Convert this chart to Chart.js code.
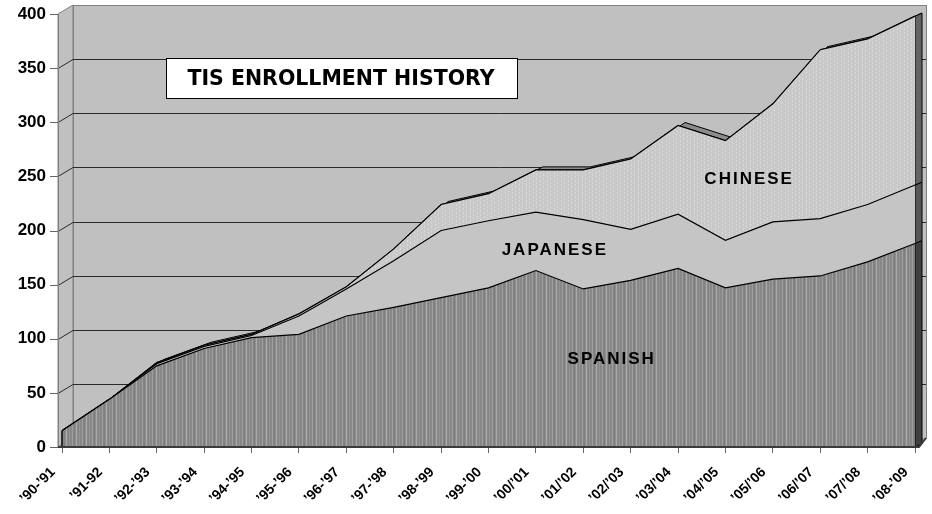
<!DOCTYPE html>
<html>
<head>
<meta charset="utf-8">
<script src="https://cdn.jsdelivr.net/npm/chart.js@4.4.1/dist/chart.umd.min.js"></script>
<style>
  html, body { margin: 0; padding: 0; background: #fff; }
</style>
</head>
<body>
<canvas id="enroll" width="932" height="514"></canvas>
<script>
// school years on the x axis
const years = ['’90-’91', '’91-92', '’92-’93', '’93-’94', '’94-’95', '’95-’96', '’96-’97', '’97-’98', '’98-’99', '’99-’00',
  '’00/’01', '’01/’02', '’02/’03', '’03/’04', '’04/’05', '’05/’06', '’06/’07', '’07/’08', '’08-’09'];

// students per language (stacked)
const spanish  = [15, 44, 75, 91, 101, 104, 121, 129, 138, 147, 163, 146, 154, 165, 147, 155, 158, 171, 188];
const japanese = [0, 0, 2, 2, 2, 17, 25, 43, 62, 62, 54, 64, 47, 50, 44, 53, 53, 53, 54];
const chinese  = [0, 0, 1, 1, 1, 2, 2, 11, 24, 25, 39, 46, 65, 82, 92, 109, 156, 153, 156];

const yTicks = [0, 50, 100, 150, 200, 250, 300, 350, 400];

const FONT = 'Liberation Sans';

function stripes(cols, h, dots) {
  const c = document.createElement('canvas');
  c.width = cols.length; c.height = h;
  const g = c.getContext('2d');
  cols.forEach((col, i) => { g.fillStyle = col; g.fillRect(i, 0, 1, h); });
  (dots || []).forEach(d => { g.fillStyle = d[2]; g.fillRect(d[0], d[1], 1, 1); });
  return g.createPattern(c, 'repeat');
}

const spanishFill = stripes(['#868686', '#8a8a8a', '#9e9e9e', '#838383', '#7f7f7f', '#8d8d8d', '#ababab', '#8a8a8a', '#848484', '#959595'], 1);
const chineseFill = stripes(['#c9c9c9', '#cacaca', '#c8c8c8', '#c9c9c9', '#cbcbcb', '#c8c8c8', '#c9c9c9'], 4,
  [[1, 0, '#dcdcdc'], [1, 1, '#d6d6d6'], [4, 2, '#dadada'], [4, 3, '#d4d4d4']]);

// 3d look: walls sit behind the front plane, series have a small depth
const wall = { dx: 15, dy: 9 };
const slab = { dx: 7, dy: 3 };

const threeD = {
  id: 'threeD',
  beforeDatasetsDraw(chart) {
    const { ctx, chartArea: a, scales: { y } } = chart;
    const fx = a.left - 4;
    const top = y.getPixelForValue(400), base = y.getPixelForValue(0);
    const bx = fx + wall.dx, br = a.right + 11;
    ctx.save();
    ctx.lineWidth = 1;
    // side wall
    ctx.fillStyle = '#c0c0c0';
    ctx.strokeStyle = '#808080';
    ctx.beginPath();
    ctx.moveTo(fx, top); ctx.lineTo(bx, top - wall.dy); ctx.lineTo(bx, base - wall.dy); ctx.lineTo(fx, base); ctx.closePath();
    ctx.fill(); ctx.stroke();
    // back wall
    ctx.fillRect(bx, top - wall.dy, br - bx, base - top);
    ctx.strokeRect(bx + 0.5, top - wall.dy + 0.5, br - bx, base - top);
    // floor
    ctx.fillStyle = '#9a9a9a';
    ctx.beginPath();
    ctx.moveTo(fx, base); ctx.lineTo(a.right + 4, base); ctx.lineTo(br, base - wall.dy); ctx.lineTo(bx, base - wall.dy); ctx.closePath();
    ctx.fill();
    // gridlines on the walls + tick marks
    yTicks.forEach(v => {
      const yy = Math.round(y.getPixelForValue(v)) + 0.5;
      if (v > 0 && v < 400) {
        ctx.strokeStyle = '#2a2a2a';
        ctx.beginPath();
        ctx.moveTo(fx, yy); ctx.lineTo(bx, yy - wall.dy); ctx.lineTo(br, yy - wall.dy);
        ctx.stroke();
      }
      ctx.strokeStyle = '#666';
      ctx.beginPath();
      ctx.moveTo(fx - 8, yy); ctx.lineTo(fx, yy);
      ctx.stroke();
    });
    ctx.strokeStyle = '#808080';
    ctx.beginPath();
    ctx.moveTo(fx + 0.5, top); ctx.lineTo(fx + 0.5, base);
    ctx.stroke();

    // top face of the upper series
    const pts = chart.getDatasetMeta(2).data;
    ctx.fillStyle = '#8c8c8c';
    ctx.strokeStyle = '#000';
    ctx.beginPath();
    pts.forEach((p, i) => i ? ctx.lineTo(p.x, p.y) : ctx.moveTo(p.x, p.y));
    for (let i = pts.length - 1; i >= 0; i--) ctx.lineTo(pts[i].x + slab.dx, pts[i].y - slab.dy);
    ctx.closePath();
    ctx.fill(); ctx.stroke();

    // right side faces
    const shades = ['#404040', '#575757', '#646464'];
    const last = pts.length - 1;
    for (let k = 0; k < 3; k++) {
      const t = chart.getDatasetMeta(k).data[last];
      const b = k ? chart.getDatasetMeta(k - 1).data[last] : { x: t.x, y: base };
      ctx.fillStyle = shades[k];
      ctx.beginPath();
      ctx.moveTo(t.x, t.y); ctx.lineTo(t.x + slab.dx, t.y - slab.dy);
      ctx.lineTo(b.x + slab.dx, b.y - slab.dy); ctx.lineTo(b.x, b.y); ctx.closePath();
      ctx.fill(); ctx.stroke();
    }
    ctx.restore();
  },
  afterDatasetsDraw(chart) {
    const { ctx, chartArea: a, scales: { x, y } } = chart;
    const base = y.getPixelForValue(0);
    ctx.save();
    // left edge of the stacked area
    const p0 = chart.getDatasetMeta(2).data[0];
    ctx.strokeStyle = '#000';
    ctx.lineWidth = 1.5;
    ctx.beginPath();
    ctx.moveTo(p0.x, base); ctx.lineTo(p0.x, p0.y);
    ctx.stroke();
    // front floor edge
    ctx.strokeStyle = '#3a3a3a';
    ctx.lineWidth = 2;
    ctx.beginPath();
    ctx.moveTo(a.left - 4, base); ctx.lineTo(a.right + 4, base); ctx.lineTo(a.right + 11, base - wall.dy);
    ctx.stroke();

    // series names inside the areas
    ctx.fillStyle = '#000';
    ctx.font = 'bold 17px "' + FONT + '"';
    ctx.letterSpacing = '2px';
    ctx.textAlign = 'center';
    ctx.textBaseline = 'middle';
    [['SPANISH', 11.6, 81], ['JAPANESE', 10.4, 182], ['CHINESE', 14.5, 247]].forEach(([t, i, v]) => {
      ctx.fillText(t, x.getPixelForValue(i), y.getPixelForValue(v));
    });

    // title box
    const l = Math.round(x.getPixelForValue(2.19)) + 0.5, r = Math.round(x.getPixelForValue(9.6)) + 0.5;
    const tt = Math.round(y.getPixelForValue(359)) + 0.5, bb = Math.round(y.getPixelForValue(322)) + 0.5;
    ctx.fillStyle = '#fff';
    ctx.fillRect(l, tt, r - l, bb - tt);
    ctx.strokeStyle = '#000';
    ctx.lineWidth = 1;
    ctx.strokeRect(l, tt, r - l, bb - tt);
    ctx.fillStyle = '#000';
    ctx.letterSpacing = '0px';
    ctx.font = 'bold 20.5px "DejaVu Sans"';
    ctx.fillText('TIS ENROLLMENT HISTORY', (l + r) / 2 - 1, (tt + bb) / 2 + 1);
    ctx.restore();
  }
};

new Chart(document.getElementById('enroll'), {
  type: 'line',
  data: {
    labels: years,
    datasets: [
      { label: 'SPANISH', data: spanish, fill: 'origin', backgroundColor: spanishFill, borderColor: '#000', borderWidth: 1.2 },
      { label: 'JAPANESE', data: japanese, fill: '-1', backgroundColor: '#c5c5c5', borderColor: '#000', borderWidth: 1.2 },
      { label: 'CHINESE', data: chinese, fill: '-1', backgroundColor: chineseFill, borderColor: '#000', borderWidth: 1.2 }
    ]
  },
  options: {
    responsive: false,
    animation: false,
    layout: { padding: { top: 14, right: 17, left: 0, bottom: 0 } },
    elements: { point: { radius: 0, hoverRadius: 0 }, line: { tension: 0 } },
    plugins: { legend: { display: false }, tooltip: { enabled: false } },
    scales: {
      x: {
        offset: false,
        grid: { drawOnChartArea: false, drawTicks: true, tickLength: 6, color: '#666' },
        border: { display: false },
        ticks: { autoSkip: false, minRotation: 45, maxRotation: 45, padding: 11, labelOffset: -9, color: '#000', font: { family: FONT, size: 14, weight: 'bold' } },
        afterFit: s => { s.height = 67; s.paddingLeft = 0; s.paddingRight = 0; }
      },
      y: {
        stacked: true,
        min: 0,
        max: 400,
        grid: { drawOnChartArea: false, drawTicks: true, tickLength: 12, color: 'rgba(0,0,0,0)' },
        border: { display: false },
        ticks: { stepSize: 50, padding: 4, color: '#000', font: { family: FONT, size: 17, weight: 'bold' } },
        afterFit: s => { s.width = 62; s.paddingTop = 0; s.paddingBottom = 0; }
      }
    }
  },
  plugins: [threeD]
});
</script>
</body>
</html>
